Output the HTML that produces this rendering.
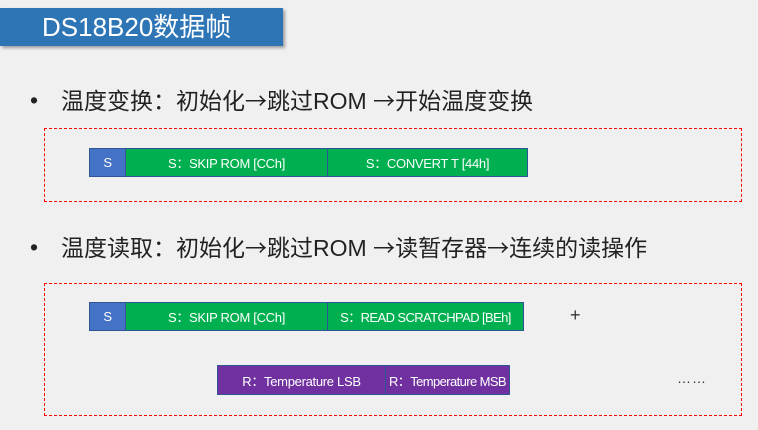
<!DOCTYPE html>
<html><head><meta charset="utf-8"><style>
body{margin:0;width:758px;height:430px;background:#f0f0f0;position:relative;overflow:hidden;font-family:"Liberation Sans","Noto Sans CJK SC",sans-serif}
.a{position:absolute;white-space:nowrap}
.title{left:0;top:8px;width:283px;height:38px;background:#2E75B6;box-shadow:2px 2px 3px rgba(0,0,0,.35);color:#fff;font-size:26px;line-height:38px;padding-left:42px;box-sizing:border-box}
.bul{font-size:23px;color:#222;line-height:30px}
.ar{font-family:"Noto Sans CJK SC",sans-serif;font-size:22px}
.box{border:1px dashed #f00;box-sizing:border-box}
.c{position:absolute;color:#fff;font-size:13px;letter-spacing:-0.3px;white-space:nowrap;text-align:center;box-sizing:border-box;border:1px solid #2F5597;display:flex;align-items:center;justify-content:center}
.s{background:#4472C4}.g{background:#00B050}.p{background:#7030A0}
</style></head><body>
<div class="a title">DS18B20数据帧</div>
<div class="a bul" style="left:30px;top:85px">•</div>
<div class="a bul" style="left:61px;top:85px">温度变换：初始化<span class="ar">→</span>跳过ROM <span class="ar">→</span>开始温度变换</div>
<div class="a box" style="left:44px;top:128px;width:698px;height:74px"></div>
<div class="c s" style="left:89px;top:148px;width:37px;height:29px">S</div>
<div class="c g" style="left:125px;top:148px;width:203px;height:29px">S：SKIP ROM [CCh]</div>
<div class="c g" style="left:327px;top:148px;width:201px;height:29px">S：CONVERT T [44h]</div>
<div class="a bul" style="left:30px;top:232px">•</div>
<div class="a bul" style="left:61px;top:232px">温度读取：初始化<span class="ar">→</span>跳过ROM <span class="ar">→</span>读暂存器<span class="ar">→</span>连续的读操作</div>
<div class="a box" style="left:44px;top:283px;width:698px;height:133px"></div>
<div class="c s" style="left:89px;top:302px;width:37px;height:29px">S</div>
<div class="c g" style="left:125px;top:302px;width:203px;height:29px">S：SKIP ROM [CCh]</div>
<div class="c g" style="left:327px;top:302px;width:197px;height:29px;letter-spacing:-0.6px">S：READ SCRATCHPAD [BEh]</div>
<div class="a" style="left:570px;top:305px;font-size:18px;color:#333">+</div>
<div class="c p" style="left:217px;top:365px;width:169px;height:30px">R：Temperature LSB</div>
<div class="c p" style="left:385px;top:365px;width:125px;height:30px;letter-spacing:-0.6px">R：Temperature MSB</div>
<div class="a" style="left:677px;top:370px;font-size:14px;color:#333;letter-spacing:1px">……</div>
</body></html>
